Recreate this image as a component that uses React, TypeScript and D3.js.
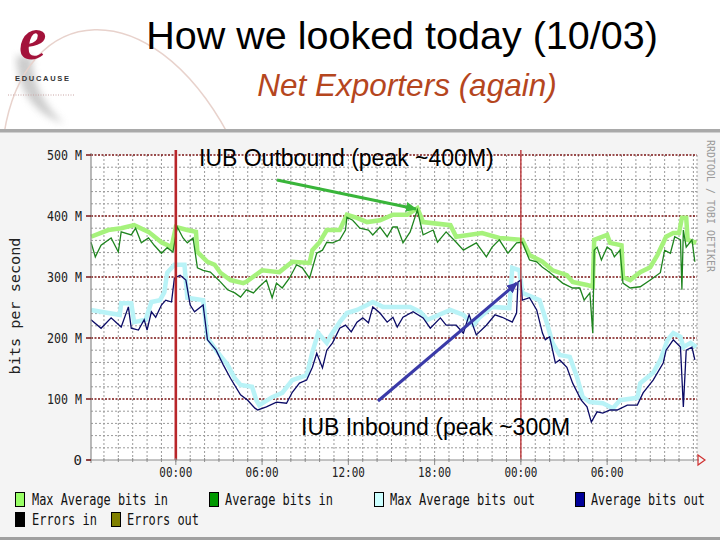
import React from 'react';
import * as d3 from 'd3';

// ---- data: [hour since midnight (day 1), Mbit/s] ----
const maxIn: [number, number][] = [
  [-5.9, 366], [-4.7, 377], [-3.8, 380], [-2.9, 385], [-1.9, 374], [-1.0, 357], [-0.3, 349],
  [0, 382], [0.8, 377], [1.4, 374], [1.5, 341], [2.2, 325], [2.7, 320], [3.1, 307], [3.8, 295],
  [4.7, 290], [4.9, 292], [6.0, 311], [7.2, 308], [8.1, 325], [9.3, 323], [9.5, 344], [10.0, 357],
  [10.5, 377], [11.4, 377], [11.9, 402], [12.6, 397], [13.3, 390], [14.2, 393], [15.1, 402],
  [16.1, 402], [16.8, 413], [17.2, 390], [19.1, 385], [19.5, 366], [21.3, 372], [22.5, 364],
  [24.1, 361], [24.6, 336], [25.5, 325], [26.2, 311], [27.2, 303], [27.6, 292], [28.6, 287],
  [29.0, 284], [29.1, 361], [30.0, 369], [30.2, 356], [31.0, 352], [31.1, 300], [31.6, 295],
  [32.3, 308], [33.0, 316], [33.5, 336], [34.1, 366], [34.6, 372], [35.0, 372], [35.2, 397],
  [35.5, 397], [35.6, 361], [36.2, 356],
];

const avgIn: [number, number][] = [
  [-5.9, 357], [-5.6, 333], [-5.2, 352], [-4.5, 364], [-4.0, 341], [-3.8, 374], [-3.1, 369],
  [-2.8, 380], [-2.4, 356], [-1.9, 364], [-1.5, 352], [-1.0, 339], [-0.6, 348], [-0.2, 341],
  [0.1, 382], [0.5, 364], [0.8, 356], [1.2, 364], [1.5, 315], [1.9, 311], [2.4, 308], [3.1, 292],
  [3.6, 279], [4.1, 274], [4.5, 267], [4.9, 279], [5.4, 274], [5.8, 284], [6.3, 295], [6.7, 266],
  [7.0, 290], [7.4, 282], [7.9, 298], [8.4, 320], [8.8, 315], [9.3, 298], [9.8, 339], [10.2, 344],
  [10.5, 357], [10.9, 356], [11.4, 361], [11.8, 377], [11.9, 398], [12.3, 393], [12.8, 380],
  [13.4, 377], [13.7, 369], [14.2, 382], [14.7, 366], [15.1, 382], [15.4, 382], [15.8, 356],
  [16.3, 374], [16.8, 410], [17.2, 369], [17.9, 377], [18.2, 357], [18.8, 374], [19.5, 357],
  [20.0, 344], [20.9, 356], [21.6, 333], [22.0, 349], [22.5, 361], [23.1, 339], [23.7, 356],
  [24.1, 357], [24.6, 328], [25.1, 325], [25.5, 316], [25.8, 311], [26.4, 300], [26.9, 290],
  [27.6, 282], [28.1, 282], [28.4, 262], [28.8, 274], [29.0, 208], [29.1, 344], [29.3, 349],
  [29.6, 328], [30.0, 349], [30.3, 344], [30.5, 333], [30.9, 344], [31.1, 290], [31.6, 282],
  [32.3, 284], [33.0, 295], [33.7, 307], [34.0, 344], [34.4, 339], [34.7, 366], [35.1, 361],
  [35.2, 279], [35.3, 377], [35.5, 349], [35.9, 361], [36.1, 325],
];

const maxOut: [number, number][] = [
  [-5.9, 246], [-4.7, 241], [-3.9, 238], [-3.8, 257], [-3.1, 257], [-2.9, 226], [-2.1, 230],
  [-1.7, 259], [-1.1, 262], [-0.8, 275], [-0.6, 307], [-0.1, 320], [0.6, 320], [0.8, 266],
  [1.9, 262], [2.2, 200], [2.9, 177], [3.6, 156], [4.1, 134], [4.5, 123], [5.3, 120], [5.6, 98],
  [5.8, 90], [6.7, 103], [7.4, 110], [8.1, 131], [9.1, 139], [9.5, 177], [9.9, 208], [10.5, 192],
  [10.8, 205], [11.4, 226], [11.9, 241], [12.6, 246], [13.3, 254], [13.7, 259], [14.4, 251],
  [15.1, 251], [16.3, 251], [17.0, 243], [17.5, 230], [19.1, 246], [20.0, 238], [20.7, 221],
  [21.1, 233], [22.0, 251], [23.2, 249], [23.4, 315], [23.9, 311], [24.1, 274], [24.8, 267],
  [25.3, 262], [25.8, 225], [26.2, 192], [26.7, 172], [27.4, 169], [27.9, 136], [28.3, 103],
  [28.8, 95], [29.7, 93], [30.4, 85], [30.9, 98], [32.1, 102], [32.3, 126], [33.2, 143],
  [33.7, 164], [34.2, 197], [34.6, 208], [35.1, 202], [35.3, 185], [35.8, 192], [36.2, 185],
];

const avgOut: [number, number][] = [
  [-5.9, 230], [-5.2, 216], [-4.5, 233], [-3.8, 218], [-3.3, 251], [-3.1, 216], [-2.6, 213],
  [-2.2, 230], [-2.0, 213], [-1.7, 243], [-1.4, 234], [-1.0, 254], [-0.7, 262], [-0.3, 259],
  [-0.1, 298], [0.3, 303], [0.7, 295], [1.0, 254], [1.3, 243], [1.9, 254], [2.2, 197], [2.8, 180],
  [3.3, 156], [3.8, 134], [4.5, 107], [5.0, 98], [5.5, 85], [5.7, 82], [6.3, 87], [7.0, 95],
  [7.7, 93], [8.1, 111], [8.6, 126], [9.1, 131], [9.5, 152], [9.8, 175], [10.2, 151], [10.5, 180],
  [10.9, 192], [11.4, 216], [11.8, 221], [12.2, 210], [12.6, 226], [13.0, 233], [13.4, 225],
  [13.7, 251], [14.2, 241], [14.7, 226], [15.1, 234], [15.4, 218], [15.8, 234], [16.5, 243],
  [17.2, 233], [17.7, 216], [18.4, 233], [18.8, 221], [19.5, 221], [20.0, 208], [20.4, 238],
  [20.9, 205], [21.6, 221], [22.2, 238], [22.7, 234], [23.4, 226], [23.7, 241], [23.8, 292],
  [24.0, 295], [24.1, 262], [24.6, 266], [25.1, 246], [25.5, 208], [25.7, 197], [26.0, 202],
  [26.4, 159], [26.7, 164], [27.2, 152], [27.6, 126], [28.2, 98], [28.6, 87], [28.9, 62],
  [29.3, 79], [29.7, 77], [30.2, 82], [30.7, 82], [31.4, 90], [32.1, 90], [32.5, 110],
  [33.2, 131], [33.9, 159], [34.1, 180], [34.6, 197], [35.1, 185], [35.3, 87], [35.5, 180],
  [35.9, 185], [36.1, 164],
];

const yTicks = [0, 100, 200, 300, 400, 500];
const yTickLabels = ['0', '100 M', '200 M', '300 M', '400 M', '500 M'];
const xTicks = [0, 6, 12, 18, 24, 30];
const xTickLabels = ['00:00', '06:00', '12:00', '18:00', '00:00', '06:00'];
const dayBreaks = [0, 24];

const legendLabels = [
  'Max Average bits in', 'Average bits in', 'Max Average bits out', 'Average bits out',
  'Errors in', 'Errors out',
];
const legendColors = ['#99ff66', '#009900', '#ccffff', '#000099', '#000000', '#808000'];

const title = 'How we looked today (10/03)';
const subtitle = 'Net Exporters (again)';
const outLabel = 'IUB Outbound (peak ~400M)';
const inLabel = 'IUB Inbound (peak ~300M';

// ---- layout ----
const W = 720;
const H = 540;
const PL = 91, PR = 697, PT = 155, PB = 460;
const legendPos = [
  { x: 15, y: 492, tx: 32, tw: 136 },
  { x: 209, y: 492, tx: 225, tw: 108 },
  { x: 374, y: 492, tx: 390, tw: 145 },
  { x: 575, y: 492, tx: 591, tw: 114 },
  { x: 15, y: 512, tx: 32, tw: 65 },
  { x: 111, y: 512, tx: 127, tw: 72 },
];

export default function App() {
  const x = d3.scaleLinear().domain([-5.9, 36.25]).range([PL, PR]);
  const y = d3.scaleLinear().domain([0, 500]).range([PB, PT]);
  const line = d3.line<[number, number]>().x((d) => x(d[0])).y((d) => y(d[1]));

  const hourLines = d3.range(-5, 37).map((h) => x(h));
  const minorY = d3.range(20, 500, 20).filter((v) => v % 100 !== 0);
  const hourTicks = d3.range(-5, 37);

  const mono = '"DejaVu Sans Mono", "Liberation Mono", monospace';
  const sans = '"Liberation Sans", Arial, sans-serif';

  return (
    <svg width={W} height={H} viewBox={`0 0 ${W} ${H}`}
      style={{ position: 'absolute', left: 0, top: 0, background: '#ffffff' }}>
      <defs>
        <marker id="arrG" markerUnits="userSpaceOnUse" markerWidth="14" markerHeight="12"
          refX="10" refY="5" orient="auto">
          <path d="M0,0 L11,5 L0,10 Z" fill="#39b53a" />
        </marker>
        <marker id="arrB" markerUnits="userSpaceOnUse" markerWidth="14" markerHeight="12"
          refX="10" refY="5" orient="auto">
          <path d="M0,0 L11,5 L0,10 Z" fill="#3a3aa8" />
        </marker>
        <filter id="blur"><feGaussianBlur stdDeviation="3.5" /></filter>
      </defs>

      {/* slide header */}
      <rect x={0} y={0} width={W} height={132} fill="#ffffff" />
      <path d="M 16 56 Q 18 108 64 124 Q 32 94 32 56 Z" fill="#c4c4c4" opacity={0.85} filter="url(#blur)" />
      <path d="M 4 134 C 25 0, 150 -10, 228 134" fill="none" stroke="#e8d2cc" strokeWidth={1.5} />
      <text x={19} y={59} fontFamily='"Liberation Serif", serif' fontStyle="italic" fontWeight="bold"
        fontSize={62} fill="#a3123a">e</text>
      <text x={15} y={80.5} fontFamily={sans} fontWeight="bold" fontSize={7.5} letterSpacing={1.7} fill="#333">EDUCAUSE</text>
      <line x1={8} x2={74} y1={95} y2={95} stroke="#c8a4a4" strokeWidth={1} strokeDasharray="1 1.5" />
      <text x={402} y={49} textAnchor="middle" fontFamily={sans} fontSize={39.5} fill="#000">{title}</text>
      <text x={407} y={96} textAnchor="middle" fontFamily={sans} fontStyle="italic" fontSize={31.5}
        fill="#b5461e">{subtitle}</text>

      {/* chart image background */}
      <rect x={0} y={132} width={W} height={408} fill="#f4f4f4" />
      <rect x={0} y={129} width={W} height={3.5} fill="#a9a9a9" />
      <rect x={0} y={537} width={W} height={3} fill="#a0a0a0" />
      <rect x={PL} y={PT} width={PR - PL} height={PB - PT} fill="#ffffff" />

      {/* minor grid */}
      {hourLines.map((hx, i) => (
        <line key={'v' + i} x1={hx} x2={hx} y1={PT} y2={PB} stroke="#9a9a9a" strokeWidth={1} strokeDasharray="2 2" />
      ))}
      <line x1={PR} x2={PR} y1={PT} y2={PB} stroke="#9a9a9a" strokeWidth={1} strokeDasharray="2 2" />
      {minorY.map((v) => (
        <line key={'h' + v} x1={PL} x2={PR} y1={y(v)} y2={y(v)} stroke="#9a9a9a" strokeWidth={1} strokeDasharray="2 2" />
      ))}
      {/* major grid */}
      {yTicks.filter((v) => v > 0).map((v) => (
        <line key={'M' + v} x1={PL} x2={PR} y1={y(v)} y2={y(v)} stroke="#7a1414" strokeWidth={1.6} strokeDasharray="2 1.5" />
      ))}

      {/* series */}
      <path d={line(maxIn) || ''} fill="none" stroke="#a6f27c" strokeWidth={4.5} strokeLinejoin="miter" />
      <path d={line(maxOut) || ''} fill="none" stroke="#b9f3f7" strokeWidth={4.5} strokeLinejoin="miter" />
      <path d={line(avgIn) || ''} fill="none" stroke="#1e841e" strokeWidth={1.3} />
      <path d={line(avgOut) || ''} fill="none" stroke="#0b0b66" strokeWidth={1.3} />

      {/* day breaks */}
      {dayBreaks.map((h, i) => (
        <line key={'d' + h} x1={x(h)} x2={x(h)} y1={PT - 5} y2={PB} stroke="#b8262a" strokeWidth={i === 0 ? 2.6 : 1.3} />
      ))}

      {/* axes */}
      <line x1={PL} x2={PL} y1={PT - 2} y2={PB + 3} stroke="#8c8c8c" strokeWidth={1.2} />
      <line x1={PL - 4} x2={PR + 2} y1={PB} y2={PB} stroke="#8c8c8c" strokeWidth={1.2} />
      {yTicks.map((v) => (
        <line key={'yt' + v} x1={PL - 5} x2={PL} y1={y(v)} y2={y(v)} stroke="#7a1414" strokeWidth={1.5} />
      ))}
      {hourTicks.map((h) => (
        <line key={'xt' + h} x1={x(h)} x2={x(h)} y1={PB - 2} y2={PB + 2} stroke="#8c8c8c" strokeWidth={1} />
      ))}
      {xTicks.map((h) => (
        <line key={'xT' + h} x1={x(h)} x2={x(h)} y1={PB} y2={PB + 5} stroke="#8c8c8c" strokeWidth={1} />
      ))}
      <path d={`M${PR + 1},${PB - 5} L${PR + 8},${PB} L${PR + 1},${PB + 5} Z`} fill="none" stroke="#d03030" strokeWidth={1.2} />

      {yTicks.map((v, i) => (
        <text key={'yl' + v} x={82} y={y(v) + 5} textAnchor="end" fontFamily={mono} fontSize={14}
          fill="#222" textLength={yTickLabels[i].length === 1 ? undefined : 35} lengthAdjust="spacingAndGlyphs">
          {yTickLabels[i]}
        </text>
      ))}
      {xTicks.map((h, i) => (
        <text key={'xl' + i} x={x(h)} y={477} textAnchor="middle" fontFamily={mono} fontSize={14}
          fill="#222" textLength={33} lengthAdjust="spacingAndGlyphs">{xTickLabels[i]}</text>
      ))}
      <text transform="translate(20,306) rotate(-90)" textAnchor="middle" fontFamily={mono} fontSize={14}
        fill="#222" textLength={137} lengthAdjust="spacingAndGlyphs">bits per second</text>
      <text transform="translate(707,206) rotate(90)" textAnchor="middle" fontFamily={mono} fontSize={10}
        fill="#9a9a9a" textLength={132} lengthAdjust="spacingAndGlyphs">RRDTOOL / TOBI OETIKER</text>

      {/* legend */}
      {legendLabels.map((lab, i) => (
        <g key={'lg' + i}>
          <rect x={legendPos[i].x + 0.5} y={legendPos[i].y + 0.5} width={9} height={14}
            fill={legendColors[i]} stroke="#000" strokeWidth={1} />
          <text transform={`translate(${legendPos[i].tx},${legendPos[i].y + 13}) scale(1,1.3)`}
            fontFamily={mono} fontSize={11.8} fill="#111"
            textLength={legendPos[i].tw} lengthAdjust="spacingAndGlyphs">{lab}</text>
        </g>
      ))}

      {/* annotations */}
      <text x={199} y={166} fontFamily={sans} fontSize={23} fill="#000">{outLabel}</text>
      <line x1={277} y1={180} x2={416} y2={209} stroke="#39b53a" strokeWidth={3} markerEnd="url(#arrG)" />
      <line x1={378} y1={401} x2={517} y2={283} stroke="#3a3aa8" strokeWidth={3} markerEnd="url(#arrB)" />
      <text x={301} y={435} fontFamily={sans} fontSize={23} fill="#000">{inLabel}</text>
    </svg>
  );
}
